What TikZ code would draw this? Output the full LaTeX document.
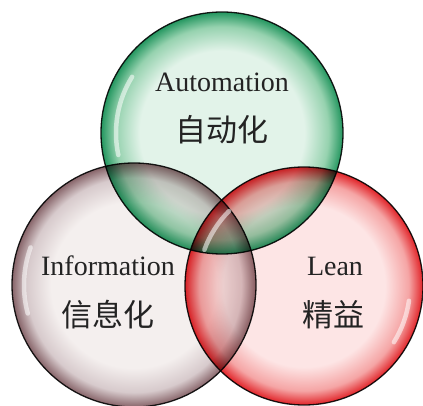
\documentclass[tikz,border=0pt]{standalone}
\usepackage{fontspec}
\setmainfont{Liberation Serif}
\newfontfamily\cjk{Noto Sans CJK SC}
\usetikzlibrary{calc}
\definecolor{ink}{RGB}{35,35,35}
\definecolor{edge}{RGB}{30,30,30}
\definecolor{autopale}{RGB}{226,243,233}
\definecolor{automid}{RGB}{150,210,175}
\definecolor{autorim}{RGB}{35,150,95}
\definecolor{infopale}{RGB}{244,239,238}
\definecolor{infomid}{RGB}{215,202,204}
\definecolor{inforim}{RGB}{135,100,105}
\definecolor{leanpale}{RGB}{253,229,229}
\definecolor{leanmid}{RGB}{245,165,165}
\definecolor{leanrim}{RGB}{225,35,40}
\pgfdeclareradialshading{autoball}{\pgfpoint{0bp}{0bp}}{color(0bp)=(autopale); color(17bp)=(autopale); color(22bp)=(automid); color(25bp)=(autorim); color(50bp)=(autorim)}
\pgfdeclareradialshading{infoball}{\pgfpoint{0bp}{0bp}}{color(0bp)=(infopale); color(17bp)=(infopale); color(22bp)=(infomid); color(25bp)=(inforim); color(50bp)=(inforim)}
\pgfdeclareradialshading{leanball}{\pgfpoint{0bp}{0bp}}{color(0bp)=(leanpale); color(17bp)=(leanpale); color(22bp)=(leanmid); color(25bp)=(leanrim); color(50bp)=(leanrim)}
\tikzset{
	ball/.style={circle,inner sep=0pt,draw=edge,line width=1.3pt,minimum size=#1},
	lat/.style={font=\fontsize{28}{30}\selectfont,text=ink,anchor=base},
	han/.style={font=\cjk\fontsize{31}{33}\selectfont,text=ink,anchor=base},
	gloss/.style={white,line width=4.5pt,line cap=round,opacity=0.55}
}
\begin{document}
\begin{tikzpicture}[x=1pt,y=-1pt]
	\useasboundingbox (0,0) rectangle (423,406);
	\begin{scope}[blend group=multiply]
		\node [ball=242pt,shading=autoball] (auto) at (222,133) {};
		\node [ball=244pt,shading=infoball] (info) at (134,285) {};
		\node [ball=238pt,shading=leanball] (lean) at (304,286) {};
	\end{scope}

	\draw [gloss] ($(auto.center)+(168:106)$) arc[start angle=168,end angle=212,radius=106];
	\draw [gloss] ($(info.center)+(165:110)$) arc[start angle=165,end angle=200,radius=110];
	\draw [gloss] ($(lean.center)+(200:106)$) arc[start angle=200,end angle=225,radius=106];
	\draw [gloss] ($(lean.center)+(8:106)$) arc[start angle=8,end angle=32,radius=106];

	\node [lat] (autoen) at (222,92) {Automation};
	\node [han] (autocn) at (222,142) {自动化};
	\node [lat] (infoen) at (108,276) {Information};
	\node [han] (infocn) at (108,326) {信息化};
	\node [lat] (leanen) at (335,276) {Lean};
	\node [han] (leancn) at (333,326) {精益};
\end{tikzpicture}
\end{document}
